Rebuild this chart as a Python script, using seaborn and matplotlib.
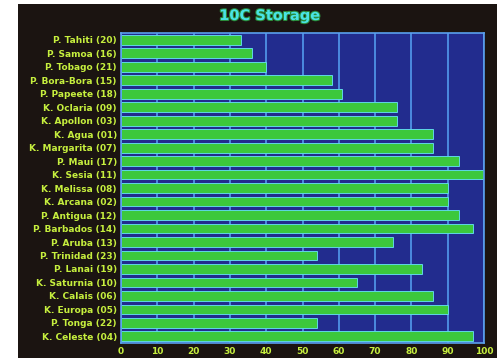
import matplotlib
matplotlib.use("Agg")
import matplotlib.pyplot as plt
import matplotlib.patheffects as pe
from matplotlib.patches import Rectangle
import pandas as pd
import seaborn as sns

names = ["P. Tahiti", "P. Samoa", "P. Tobago", "P. Bora-Bora", "P. Papeete",
         "K. Oclaria", "K. Apollon", "K. Agua", "K. Margarita", "P. Maui",
         "K. Sesia", "K. Melissa", "K. Arcana", "P. Antigua", "P. Barbados",
         "P. Aruba", "P. Trinidad", "P. Lanai", "K. Saturnia", "K. Calais",
         "K. Europa", "P. Tonga", "K. Celeste"]
codes = ["20", "16", "21", "15", "18", "09", "03", "01", "07", "17",
         "11", "08", "02", "12", "14", "13", "23", "19", "10", "06",
         "05", "22", "04"]
storage = [33, 36, 40, 58, 61, 76, 76, 86, 86, 93,
           100, 90, 90, 93, 97, 75, 54, 83, 65, 86,
           90, 54, 97]
x_ticks = [0, 10, 20, 30, 40, 50, 60, 70, 80, 90, 100]

df = pd.DataFrame({
    "label": [f"{n} ({c})" for n, c in zip(names, codes)],
    "storage": storage,
})

sns.set_style("dark")
plt.rcParams["font.family"] = ["DejaVu Sans"]

fig = plt.figure(figsize=(5, 3.6), dpi=100, facecolor="white")
# dark screen frame, behind the axes
fig.patches.append(Rectangle((0.036, 0.006), 0.958, 0.983, transform=fig.transFigure,
                             facecolor="#1b1411", edgecolor="none", zorder=-5))

ax = fig.add_axes([0.242, 0.047, 0.726, 0.861])
ax.set_facecolor("#222c8e")

ax.set_axisbelow(True)
ax.xaxis.grid(True, color="#4f92e6", linewidth=1.3)
ax.yaxis.grid(False)

sns.barplot(data=df, x="storage", y="label", orient="h", color="#3cc83c",
            saturation=1, width=0.72, edgecolor="#5fd6e6", linewidth=0.7, ax=ax)

ax.set_xlim(0, 100)
ax.set_xticks(x_ticks)
ax.set_xticklabels([str(t) for t in x_ticks])
ax.set_xlabel("")
ax.set_ylabel("")
ax.tick_params(axis="both", length=0, pad=3, colors="#c6ef3e", labelsize=6.5)
for lab in ax.get_xticklabels() + ax.get_yticklabels():
    lab.set_fontweight("bold")

for s in ax.spines.values():
    s.set_visible(True)
    s.set_color("#5aa0ee")
    s.set_linewidth(1.2)

fig.text(0.54, 0.957, "10C Storage", color="#49e3e6", fontsize=10.5, fontweight="bold",
         ha="center", va="center",
         path_effects=[pe.withStroke(linewidth=1.5, foreground="#2a8a3a")])

fig.savefig("out.png", dpi=100, facecolor=fig.get_facecolor())
